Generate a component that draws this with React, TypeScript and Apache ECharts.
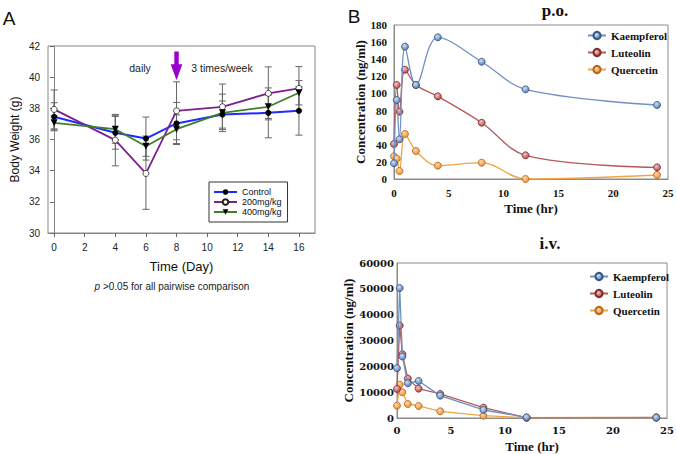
import React, { useEffect, useRef } from "react";
import * as echarts from "echarts";

// ---------- Panel A data ----------
const days = [0, 4, 6, 8, 11, 14, 16];
const dayTicks = [0, 2, 4, 6, 8, 10, 12, 14, 16];
const control = [37.46, 36.43, 36.06, 37.03, 37.6, 37.71, 37.84];
const controlErr = [0.9, 1.05, 1.38, 1.35, 0.87, 1.6, 1.56];
const mg200 = [37.93, 35.96, 33.82, 37.84, 38.1, 38.96, 39.28];
const mg200Err = [1.25, 1.65, 2.3, 1.86, 1.46, 1.7, 1.4];
const mg400 = [37.07, 36.66, 35.57, 36.66, 37.71, 38.1, 39.0];
const mg400Err = [0.45, 0.9, 0.65, 0.92, 1.2, 0.75, 0.78];
const switchDay = 8;

// ---------- Panel B data ----------
const hours = [0, 0.25, 0.5, 1, 2, 4, 8, 12, 24];
const poKaempferol = [18.3, 92.3, 46.4, 154.7, 109.9, 165.6, 137.1, 104.8, 86.5];
const poLuteolin = [40.9, 109.9, 78.7, 127.8, 109.9, 96.6, 65.8, 27.7, 13.6];
const poQuercetin = [26.5, 23.8, 9.3, 52.6, 32.7, 15.6, 19.1, 0, 4.7];
const ivKaempferol = [19270, 50300, 23790, 13450, 14350, 8660, 3100, 260, 130];
const ivLuteolin = [11250, 35800, 24700, 15260, 11380, 9310, 4010, 130, 260];
const ivQuercetin = [4780, 12930, 9960, 5430, 4650, 2590, 900, 100, 100];
const compounds = ["Kaempferol", "Luteolin", "Quercetin"];

const pairs = (xs: number[], ys: number[]) => xs.map((x, i) => [x, ys[i]]);
const errPairs = (xs: number[], ys: number[], es: number[]) => xs.map((x, i) => [x, ys[i], es[i]]);

const sansA = "'Liberation Sans', Arial, sans-serif";
const serifB = "'Liberation Serif', 'Times New Roman', serif";
const serifWide = "'DejaVu Serif', serif";

const grad = (light: string, dark: string) => ({
  type: "radial",
  x: 0.4,
  y: 0.35,
  r: 0.7,
  colorStops: [
    { offset: 0, color: light },
    { offset: 1, color: dark },
  ],
});

const compStyle = [
  { line: "#6f90c0", fill: grad("#d5e0f0", "#4a74ad"), border: "#34568a" },
  { line: "#b55a5c", fill: grad("#eec8c8", "#b0403e"), border: "#7f2b2a" },
  { line: "#f2a445", fill: grad("#fcd9ae", "#ee8a2a"), border: "#b5661e" },
];

const errorBarSeries = (data: number[][], z: number) => ({
  type: "custom",
  xAxisIndex: 0,
  yAxisIndex: 0,
  z,
  silent: true,
  data,
  renderItem: (params: any, api: any) => {
    const x = api.value(0);
    const y = api.value(1);
    const e = api.value(2);
    const t = api.coord([x, y + e]);
    const b = api.coord([x, y - e]);
    const w = 3.5;
    const st = { stroke: "#666", lineWidth: 1 };
    return {
      type: "group",
      children: [
        { type: "line", shape: { x1: t[0], y1: t[1], x2: b[0], y2: b[1] }, style: st },
        { type: "line", shape: { x1: t[0] - w, y1: t[1], x2: t[0] + w, y2: t[1] }, style: st },
        { type: "line", shape: { x1: b[0] - w, y1: b[1], x2: b[0] + w, y2: b[1] }, style: st },
      ],
    };
  },
});

export default function App() {
  const ref = useRef<HTMLDivElement>(null);
  useEffect(() => {
    if (!ref.current) return;
    const chart = echarts.init(ref.current, undefined, { renderer: "svg" });

    const compSeries = (name: string, data: number[], idx: number, ci: number, smooth: boolean) => ({
      type: "line",
      name,
      xAxisIndex: idx,
      yAxisIndex: idx,
      data: pairs(hours, data),
      smooth: smooth ? 0.35 : false,
      symbol: "circle",
      symbolSize: 7,
      showAllSymbol: true,
      lineStyle: { color: compStyle[ci].line, width: 1.3 },
      itemStyle: { color: compStyle[ci].fill, borderColor: compStyle[ci].border, borderWidth: 0.8 },
      z: 3 - ci + 2,
    });

    const bAxisLine = { show: true, lineStyle: { color: "#8a8a8a", width: 1 } };
    const plain = (v: number) => String(v);

    const option: any = {
      animation: false,
      backgroundColor: "#fff",
      grid: [
        { left: 48, top: 46, width: 267, height: 187, show: true, borderColor: "#888", borderWidth: 1 },
        { left: 394, top: 25, width: 274, height: 154, show: true, borderColor: "#8a8a8a", borderWidth: 1 },
        { left: 397, top: 263, width: 273, height: 155, show: true, borderColor: "#8a8a8a", borderWidth: 1 },
      ],
      xAxis: [
        {
          gridIndex: 0,
          type: "value",
          min: -0.4,
          max: 17.05,
          name: "Time (Day)",
          nameLocation: "middle",
          nameGap: 27,
          nameTextStyle: { fontFamily: sansA, fontSize: 13, color: "#111" },
          axisLine: { show: true, lineStyle: { color: "#888" } },
          axisTick: { show: true, length: 4, customValues: dayTicks, lineStyle: { color: "#666" } },
          axisLabel: { customValues: dayTicks, fontFamily: sansA, fontSize: 10, color: "#222", margin: 9 },
          splitLine: { show: false },
        },
        {
          gridIndex: 1,
          type: "value",
          min: 0,
          max: 25,
          interval: 5,
          name: "Time (hr)",
          nameLocation: "middle",
          nameGap: 23,
          nameTextStyle: { fontFamily: serifB, fontWeight: "bold", fontSize: 13, color: "#111" },
          axisLine: bAxisLine,
          axisTick: { show: false },
          axisLabel: { fontFamily: serifB, fontWeight: "bold", fontSize: 11, color: "#111", margin: 8, formatter: plain },
          splitLine: { show: false },
        },
        {
          gridIndex: 2,
          type: "value",
          min: 0,
          max: 25,
          interval: 5,
          name: "Time (hr)",
          nameLocation: "middle",
          nameGap: 22,
          nameTextStyle: { fontFamily: serifB, fontWeight: "bold", fontSize: 13, color: "#111" },
          axisLine: bAxisLine,
          axisTick: { show: false },
          axisLabel: { fontFamily: serifWide, fontWeight: "bold", fontSize: 10, color: "#111", margin: 7, formatter: plain },
          splitLine: { show: false },
        },
      ],
      yAxis: [
        {
          gridIndex: 0,
          type: "value",
          min: 30,
          max: 42,
          interval: 2,
          name: "Body Weight (g)",
          nameLocation: "middle",
          nameGap: 27,
          nameTextStyle: { fontFamily: sansA, fontSize: 12, color: "#111" },
          axisLine: { show: true, lineStyle: { color: "#888" } },
          axisTick: { show: true, length: 4, lineStyle: { color: "#666" } },
          axisLabel: { fontFamily: sansA, fontSize: 10, color: "#222", margin: 8 },
          splitLine: { show: false },
        },
        {
          gridIndex: 1,
          type: "value",
          min: 0,
          max: 180,
          interval: 20,
          name: "Concentration (ng/ml)",
          nameLocation: "middle",
          nameGap: 27,
          nameTextStyle: { fontFamily: serifB, fontWeight: "bold", fontSize: 13, color: "#111" },
          axisLine: bAxisLine,
          axisTick: { show: false },
          axisLabel: { fontFamily: serifB, fontWeight: "bold", fontSize: 11, color: "#111", margin: 7, formatter: plain },
          splitLine: { show: false },
        },
        {
          gridIndex: 2,
          type: "value",
          min: 0,
          max: 60000,
          interval: 10000,
          name: "Concentration (ng/ml)",
          nameLocation: "middle",
          nameGap: 40,
          nameTextStyle: { fontFamily: serifB, fontWeight: "bold", fontSize: 13, color: "#111" },
          axisLine: bAxisLine,
          axisTick: { show: false },
          axisLabel: { fontFamily: serifWide, fontWeight: "bold", fontSize: 10, color: "#111", margin: 3, formatter: plain },
          splitLine: { show: false },
        },
      ],
      legend: [
        {
          data: ["Control", "200mg/kg", "400mg/kg"],
          orient: "vertical",
          left: 209,
          top: 182,
          padding: [5, 6, 5, 4],
          itemGap: 0,
          itemWidth: 23,
          itemHeight: 7,
          borderColor: "#333",
          borderWidth: 1,
          textStyle: { fontFamily: sansA, fontSize: 9, color: "#111", lineHeight: 10 },
        },
        {
          data: compounds,
          orient: "vertical",
          left: 587,
          top: 29,
          padding: 0,
          itemGap: 4,
          itemWidth: 18,
          itemHeight: 9,
          textStyle: { fontFamily: serifB, fontWeight: "bold", fontSize: 11, color: "#111", lineHeight: 13 },
        },
        {
          data: compounds,
          orient: "vertical",
          left: 589,
          top: 270,
          padding: 0,
          itemGap: 4,
          itemWidth: 18,
          itemHeight: 9,
          textStyle: { fontFamily: serifB, fontWeight: "bold", fontSize: 11, color: "#111", lineHeight: 13 },
        },
      ],
      series: [
        errorBarSeries(errPairs(days, control, controlErr), 1),
        errorBarSeries(errPairs(days, mg200, mg200Err), 1),
        errorBarSeries(errPairs(days, mg400, mg400Err), 1),
        {
          type: "custom",
          xAxisIndex: 0,
          yAxisIndex: 0,
          silent: true,
          z: 6,
          data: [[switchDay, 41.65, 39.8]],
          renderItem: (params: any, api: any) => {
            const x = api.value(0);
            const t = api.coord([x, api.value(1)]);
            const b = api.coord([x, api.value(2)]);
            const cx = t[0];
            const sw = 2.2;
            const hw = 5.8;
            const hl = 16;
            return {
              type: "polygon",
              shape: {
                points: [
                  [cx - sw, t[1]],
                  [cx + sw, t[1]],
                  [cx + sw, b[1] - hl],
                  [cx + hw, b[1] - hl],
                  [cx, b[1]],
                  [cx - hw, b[1] - hl],
                  [cx - sw, b[1] - hl],
                ],
              },
              style: { fill: "#9b00cc" },
            };
          },
        },
        {
          type: "line",
          name: "Control",
          xAxisIndex: 0,
          yAxisIndex: 0,
          data: pairs(days, control),
          symbol: "circle",
          symbolSize: 6,
          lineStyle: { color: "#1f2bff", width: 2 },
          itemStyle: { color: "#000" },
          z: 4,
        },
        {
          type: "line",
          name: "200mg/kg",
          xAxisIndex: 0,
          yAxisIndex: 0,
          data: pairs(days, mg200),
          symbol: "circle",
          symbolSize: 6,
          lineStyle: { color: "#7e1f91", width: 1.8 },
          itemStyle: { color: "#fff", borderColor: "#222", borderWidth: 0.8 },
          z: 4,
        },
        {
          type: "line",
          name: "400mg/kg",
          xAxisIndex: 0,
          yAxisIndex: 0,
          data: pairs(days, mg400),
          symbol: "triangle",
          symbolRotate: 180,
          symbolSize: 7,
          lineStyle: { color: "#3f7f2a", width: 1.8 },
          itemStyle: { color: "#000" },
          z: 4,
        },
        compSeries("Kaempferol", poKaempferol, 1, 0, true),
        compSeries("Luteolin", poLuteolin, 1, 1, true),
        compSeries("Quercetin", poQuercetin, 1, 2, true),
        compSeries("Kaempferol", ivKaempferol, 2, 0, false),
        compSeries("Luteolin", ivLuteolin, 2, 1, false),
        compSeries("Quercetin", ivQuercetin, 2, 2, false),
      ],
      graphic: [
        { type: "text", x: 9, y: 18, style: { text: "A", fontFamily: sansA, fontSize: 19, fill: "#111", align: "center", verticalAlign: "middle" } },
        { type: "text", x: 354, y: 16, style: { text: "B", fontFamily: sansA, fontSize: 19, fill: "#111", align: "center", verticalAlign: "middle" } },
        { type: "text", x: 140, y: 68, style: { text: "daily", fontFamily: sansA, fontSize: 10.5, fill: "#222", align: "center", verticalAlign: "middle" } },
        { type: "text", x: 222, y: 68, style: { text: "3 times/week", fontFamily: sansA, fontSize: 10.5, fill: "#222", align: "center", verticalAlign: "middle" } },
        {
          type: "text",
          x: 172,
          y: 286,
          style: {
            text: "{i|p} >0.05 for all pairwise comparison",
            fontFamily: sansA,
            fontSize: 10,
            fill: "#222",
            align: "center",
            verticalAlign: "middle",
            rich: { i: { fontStyle: "italic", fontFamily: sansA, fontSize: 10, fill: "#222" } },
          },
        },
        { type: "text", x: 555, y: 10, style: { text: "p.o.", fontFamily: serifB, fontWeight: "bold", fontSize: 17, fill: "#111", align: "center", verticalAlign: "middle" } },
        { type: "text", x: 550, y: 243, style: { text: "i.v.", fontFamily: serifB, fontWeight: "bold", fontSize: 17, fill: "#111", align: "center", verticalAlign: "middle" } },
      ],
    };

    chart.setOption(option);
    return () => chart.dispose();
  }, []);

  return (
    <div
      ref={ref}
      style={{ position: "fixed", left: 0, top: 0, width: 677, height: 454, background: "#fff" }}
    />
  );
}
